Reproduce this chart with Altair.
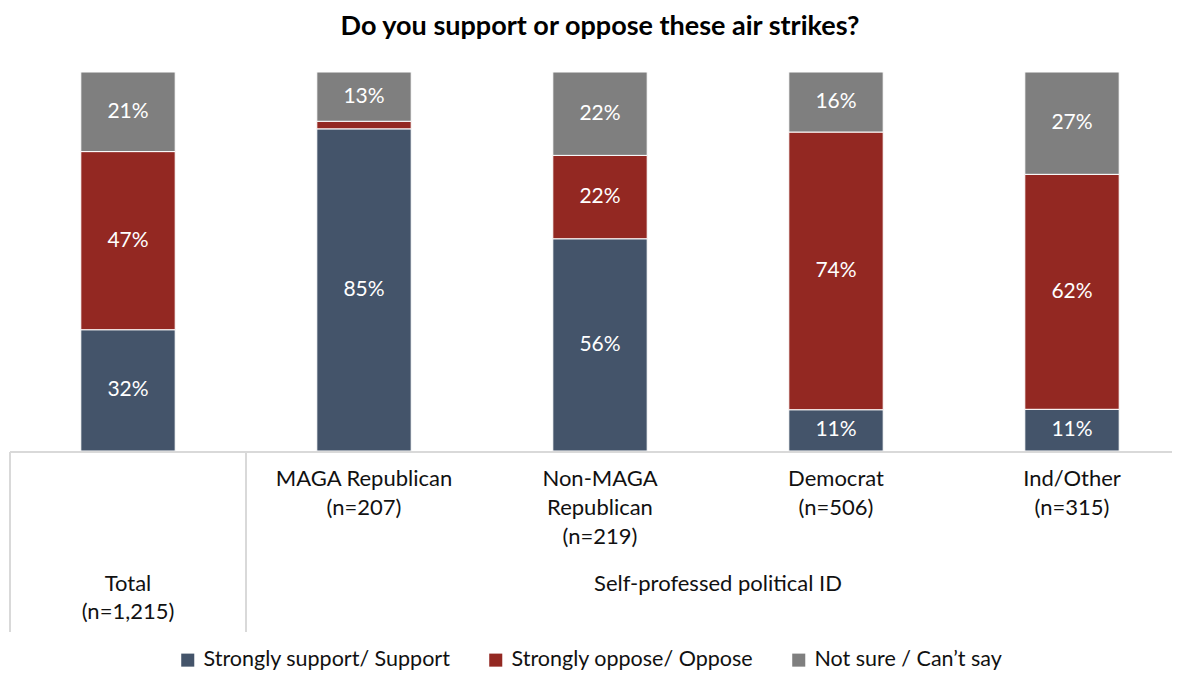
import altair as alt
import pandas as pd

groups = ["Total", "MAGA Republican", "Non-MAGA Republican", "Democrat", "Ind/Other"]
group_labels = ["Total\n(n=1,215)", "MAGA Republican\n(n=207)", "Non-MAGA\nRepublican\n(n=219)",
                "Democrat\n(n=506)", "Ind/Other\n(n=315)"]
responses = ["Strongly support/ Support", "Strongly oppose/ Oppose", "Not sure / Can\u2019t say"]
support = [32, 85, 56, 11, 11]
oppose = [47, 2, 22, 74, 62]
not_sure = [21, 13, 22, 16, 27]
colors = ["#44546A", "#932822", "#7F7F7F"]

FONT = "Lato"
TXT = "#111111"

rows = []
for i, g in enumerate(groups):
    for j, (r, vals) in enumerate(zip(responses, [support, oppose, not_sure])):
        rows.append({"group": g, "response": r, "value": vals[i], "order": j})
df = pd.DataFrame(rows)
lab_df = pd.DataFrame({"group": groups, "label": group_labels,
                       "row": ["bottom"] + ["top"] * 4})

xscale = alt.Scale(domain=groups, range=[0, 1180], paddingInner=0.6, paddingOuter=0.3)
yscale = alt.Scale(domain=[0, 1])

base = alt.Chart(df).transform_stack(
    stack="value", groupby=["group"], as_=["y0", "y1"],
    sort=[alt.SortField("order", "ascending")], offset="normalize"
).transform_calculate(mid="(datum.y0 + datum.y1) / 2")

bars = base.mark_bar(stroke="white", strokeWidth=1).encode(
    x=alt.X("group:N", scale=xscale, axis=None),
    y=alt.Y("y0:Q", scale=yscale, axis=None),
    y2="y1:Q",
    color=alt.Color("response:N",
                    scale=alt.Scale(domain=responses, range=colors),
                    legend=alt.Legend(title=None, orient="none", direction="horizontal",
                                      legendX=167, legendY=577, symbolType="square",
                                      symbolSize=170, symbolStrokeWidth=0,
                                      labelFontSize=21.5, labelFont=FONT, labelColor=TXT,
                                      labelLimit=0, columnPadding=34, symbolOffset=0,
                                      labelOffset=5, padding=0)),
)

labels = base.transform_filter("datum.value >= 5").transform_calculate(
    txt="datum.value + '%'"
).mark_text(color="white", fontSize=21, font=FONT).encode(
    x=alt.X("group:N", scale=xscale),
    y=alt.Y("mid:Q", scale=yscale),
    text="txt:N",
)

cat_top = alt.Chart(lab_df).transform_filter("datum.row == 'top'").transform_calculate(
    lines="split(datum.label, '\\n')"
).mark_text(fontSize=22, font=FONT, color=TXT, baseline="top", lineHeight=29).encode(
    x=alt.X("group:N", scale=xscale), y=alt.value(397), text="lines:N"
)
cat_bottom = alt.Chart(lab_df).transform_filter("datum.row == 'bottom'").transform_calculate(
    lines="split(datum.label, '\\n')"
).mark_text(fontSize=22, font=FONT, color=TXT, baseline="top", lineHeight=28).encode(
    x=alt.X("group:N", scale=xscale), y=alt.value(502), text="lines:N"
)
group_title = alt.Chart(pd.DataFrame({"t": ["Self-professed political ID"]})).mark_text(
    fontSize=22, font=FONT, color=TXT, baseline="top"
).encode(x=alt.value(708), y=alt.value(502), text="t:N")

line_color = "#D9D9D9"
hline = alt.Chart(pd.DataFrame({"a": [0]})).mark_rule(color=line_color, strokeWidth=2).encode(
    x=alt.value(0), x2=alt.value(1180), y=alt.value(380))
vline1 = alt.Chart(pd.DataFrame({"a": [0]})).mark_rule(color=line_color, strokeWidth=2).encode(
    x=alt.value(0), y=alt.value(380), y2=alt.value(560))
vline2 = alt.Chart(pd.DataFrame({"a": [0]})).mark_rule(color=line_color, strokeWidth=2).encode(
    x=alt.value(236), y=alt.value(380), y2=alt.value(560))

chart = alt.layer(bars, labels, hline, vline1, vline2, cat_top, cat_bottom, group_title).properties(
    width=1162, height=379,
    padding={"left": 2, "top": 64, "right": 0, "bottom": 221},
    autosize=alt.AutoSizeParams(type="none"),
    title=alt.TitleParams("Do you support or oppose these air strikes?", fontSize=27,
                          fontWeight="bold", font=FONT, color="#000000", anchor="middle",
                          dx=9, offset=31),
).configure(background="white").configure_view(stroke="transparent", strokeWidth=0)

chart.save("out.html", embed_options={"renderer": "svg", "actions": False})
